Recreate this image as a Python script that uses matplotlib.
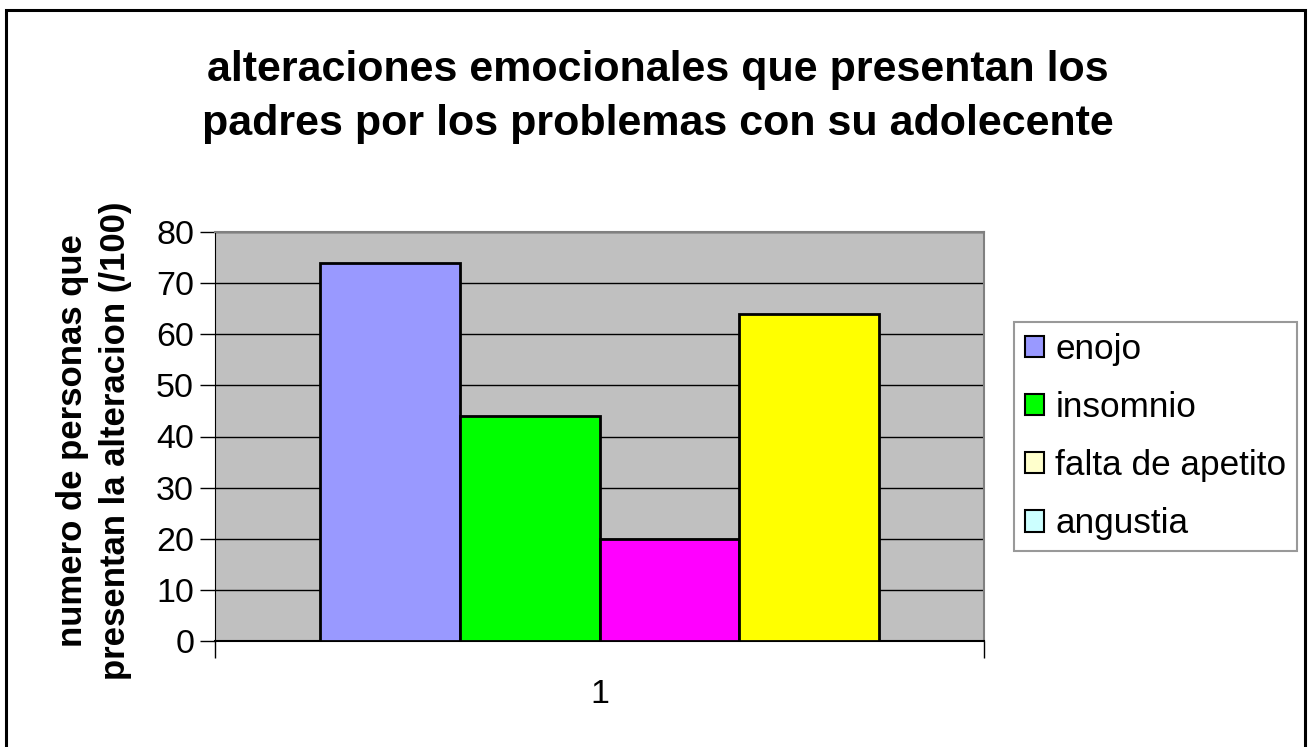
import matplotlib.pyplot as plt
from matplotlib.patches import Rectangle, Patch

plt.rcParams['font.family'] = ['Liberation Sans', 'DejaVu Sans']

# data
series = ["enojo", "insomnio", "falta de apetito", "angustia"]
values = [74, 44, 20, 64]
bar_colors = ["#9999ff", "#00ff00", "#ff00ff", "#ffff00"]
legend_colors = ["#9999ff", "#00ff00", "#ffffcc", "#ccffff"]
category = "1"

fig = plt.figure(figsize=(13.09, 7.47), dpi=100)
W, H = 1309, 747

# outer chart frame
fig.patches.append(Rectangle((6 / W, -0.05), 1299 / W, 1.05 - 10 / H,
                             transform=fig.transFigure, fill=False,
                             edgecolor="black", linewidth=2.2))

ax = fig.add_axes([215 / W, 1 - 641 / H, (984 - 215) / W, (641 - 232) / H])
ax.set_facecolor("#c0c0c0")

bw = 1 / 5.5
start = 0.75 * bw
for i, (v, c) in enumerate(zip(values, bar_colors)):
    ax.bar(start + i * bw, v, width=bw, align="edge", color=c,
           edgecolor="black", linewidth=2.0, zorder=3)

ax.set_xlim(0, 1)
ax.set_ylim(0, 80)
ax.set_yticks(range(0, 81, 10))
ax.yaxis.grid(True, color="black", linewidth=1.0, zorder=1)
ax.set_axisbelow(True)
ax.tick_params(axis="y", labelsize=24.5, length=11, width=1, direction="out", pad=4)
ax.set_xticks([0, 1])
ax.set_xticklabels([])
ax.tick_params(axis="x", length=12, width=1, direction="out")
ax.text(0.5, -0.13, category, transform=ax.transAxes, ha="center", va="center",
        fontsize=24.5)

for s in ["top", "right"]:
    ax.spines[s].set_color("#808080")
    ax.spines[s].set_linewidth(1.5)
ax.spines["left"].set_color("black")
ax.spines["bottom"].set_color("black")
ax.spines["bottom"].set_linewidth(1.5)

ax.set_ylabel("numero de personas que\npresentan la alteracion (/100)",
              fontsize=25, fontweight="bold", linespacing=1.4)
ax.yaxis.set_label_coords(-0.108, 0.49)

fig.text(658 / W, 1 - 97 / H,
         "alteraciones emocionales que presentan los\npadres por los problemas con su adolecente",
         ha="center", va="center", fontsize=31, fontweight="bold", linespacing=1.45)

handles = [Patch(facecolor=c, edgecolor="black", linewidth=1.5) for c in legend_colors]
leg = fig.legend(handles, series, loc="upper left",
                 bbox_to_anchor=(1014 / W, 1 - 322 / H), fontsize=25.3,
                 frameon=True, fancybox=False, edgecolor="#808080",
                 handlelength=0.55, handleheight=0.55, handletextpad=0.33,
                 labelspacing=0.72, borderpad=0.3, borderaxespad=0)
leg.get_frame().set_linewidth(1.5)

fig.savefig("out.png", dpi=100)
